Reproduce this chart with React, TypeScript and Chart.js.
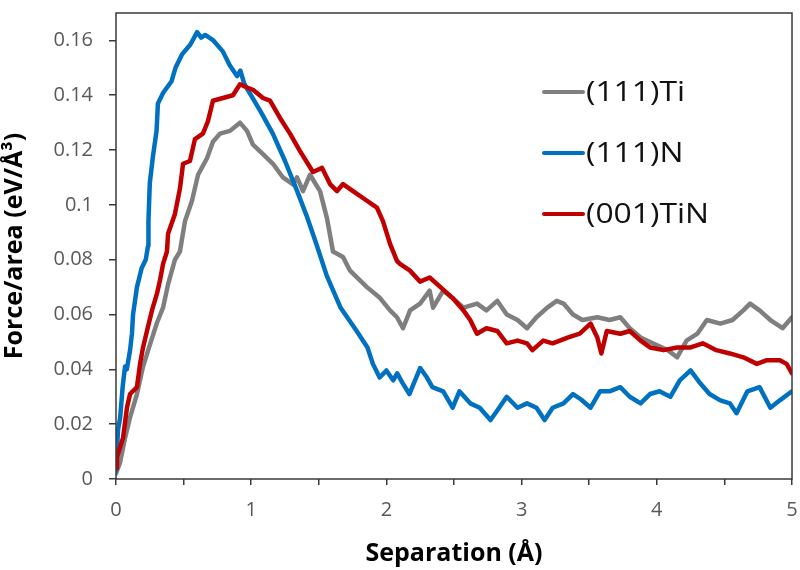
import React, { useEffect, useRef } from "react";
import { Chart, registerables } from "chart.js";

Chart.register(...registerables);

const seriesNames = ["(111)Ti", "(111)N", "(001)TiN"];
const seriesColors = ["#7f7f7f", "#0070c0", "#c00000"];

const xTitle = "Separation (Å)";
const yTitle = "Force/area (eV/Å³)";

const yTickMax = 0.16;
const yAxisMax = 0.17;
const xAxisMax = 5;

// [separation, force/area]
const ti111: [number, number][] = [
  [0, 0.002], [0.03, 0.006], [0.067, 0.015], [0.104, 0.0225], [0.155, 0.031], [0.2, 0.041],
  [0.251, 0.049], [0.303, 0.057], [0.348, 0.0625], [0.385, 0.071], [0.436, 0.08], [0.473, 0.083],
  [0.51, 0.094], [0.562, 0.1015], [0.607, 0.111], [0.673, 0.117], [0.717, 0.123], [0.769, 0.126],
  [0.843, 0.127], [0.917, 0.13], [0.969, 0.127], [1.013, 0.122], [1.087, 0.1185], [1.161, 0.115],
  [1.235, 0.11], [1.309, 0.1075], [1.339, 0.11], [1.383, 0.105], [1.435, 0.111], [1.509, 0.105],
  [1.561, 0.095], [1.605, 0.083], [1.679, 0.081], [1.731, 0.076], [1.856, 0.07], [1.953, 0.066],
  [2.027, 0.0615], [2.078, 0.059], [2.123, 0.055], [2.175, 0.0615], [2.249, 0.064], [2.32, 0.0687],
  [2.345, 0.0625], [2.42, 0.0687], [2.49, 0.066], [2.57, 0.0625], [2.67, 0.064], [2.74, 0.0615],
  [2.82, 0.065], [2.89, 0.06], [2.97, 0.058], [3.04, 0.055], [3.11, 0.059], [3.19, 0.0625],
  [3.26, 0.065], [3.31, 0.064], [3.38, 0.06], [3.45, 0.058], [3.56, 0.059], [3.65, 0.058],
  [3.73, 0.059], [3.8, 0.055], [3.88, 0.0516], [3.97, 0.0495], [4.08, 0.047], [4.15, 0.0444],
  [4.22, 0.0505], [4.3, 0.053], [4.37, 0.058], [4.47, 0.0567], [4.56, 0.058], [4.64, 0.0615],
  [4.69, 0.064], [4.76, 0.0615], [4.84, 0.058], [4.93, 0.055], [5.0, 0.059],
];

const n111: [number, number][] = [
  [0, 0.003], [0.015, 0.018], [0.03, 0.022], [0.05, 0.034], [0.067, 0.041], [0.08, 0.04],
  [0.104, 0.047], [0.118, 0.053], [0.126, 0.06], [0.155, 0.07], [0.19, 0.077], [0.22, 0.08],
  [0.237, 0.085], [0.24, 0.094], [0.25, 0.108], [0.274, 0.118], [0.3, 0.127], [0.31, 0.137],
  [0.35, 0.141], [0.41, 0.145], [0.44, 0.15], [0.49, 0.155], [0.55, 0.1585], [0.6, 0.163],
  [0.63, 0.161], [0.66, 0.162], [0.72, 0.16], [0.79, 0.156], [0.84, 0.151], [0.895, 0.147],
  [0.92, 0.149], [0.95, 0.144], [1.01, 0.139], [1.07, 0.134], [1.16, 0.126], [1.25, 0.116],
  [1.34, 0.105], [1.41, 0.096], [1.48, 0.086], [1.56, 0.074], [1.66, 0.0626], [1.78, 0.054],
  [1.86, 0.048], [1.9, 0.042], [1.95, 0.037], [2.0, 0.0396], [2.05, 0.036], [2.08, 0.0385],
  [2.12, 0.035], [2.17, 0.031], [2.25, 0.0405], [2.3, 0.037], [2.34, 0.0335], [2.42, 0.032],
  [2.49, 0.026], [2.54, 0.032], [2.62, 0.0276], [2.69, 0.026], [2.77, 0.0215], [2.82, 0.025],
  [2.89, 0.03], [2.97, 0.026], [3.04, 0.0276], [3.11, 0.026], [3.17, 0.0215], [3.23, 0.026],
  [3.31, 0.0276], [3.38, 0.031], [3.44, 0.029], [3.51, 0.026], [3.58, 0.032], [3.65, 0.032],
  [3.73, 0.0335], [3.8, 0.03], [3.88, 0.0276], [3.95, 0.031], [4.02, 0.032], [4.1, 0.03],
  [4.17, 0.036], [4.25, 0.0396], [4.32, 0.035], [4.39, 0.031], [4.47, 0.0287], [4.54, 0.0276],
  [4.59, 0.024], [4.67, 0.032], [4.76, 0.0335], [4.84, 0.026], [4.91, 0.0287], [5.0, 0.032],
];

const tin001: [number, number][] = [
  [0, 0.004], [0.007, 0.008], [0.03, 0.0116], [0.052, 0.015], [0.081, 0.026], [0.104, 0.031],
  [0.155, 0.0335], [0.178, 0.042], [0.2, 0.048], [0.229, 0.054], [0.266, 0.0615], [0.303, 0.0676],
  [0.325, 0.0724], [0.348, 0.0785], [0.377, 0.083], [0.385, 0.0895], [0.436, 0.0967], [0.473, 0.106],
  [0.496, 0.115], [0.547, 0.116], [0.584, 0.124], [0.643, 0.126], [0.68, 0.1305], [0.717, 0.138],
  [0.791, 0.139], [0.865, 0.14], [0.917, 0.144], [0.96, 0.143], [1.013, 0.142], [1.087, 0.139],
  [1.139, 0.138], [1.213, 0.1317], [1.287, 0.126], [1.361, 0.1196], [1.457, 0.112], [1.524, 0.1135],
  [1.583, 0.1076], [1.635, 0.105], [1.679, 0.1076], [1.753, 0.105], [1.856, 0.1015], [1.9, 0.1],
  [1.93, 0.099], [1.975, 0.094], [2.027, 0.0858], [2.078, 0.0796], [2.1, 0.0785], [2.175, 0.076],
  [2.249, 0.072], [2.32, 0.0735], [2.4, 0.07], [2.49, 0.066], [2.57, 0.0615], [2.62, 0.058],
  [2.67, 0.053], [2.74, 0.055], [2.82, 0.054], [2.89, 0.0495], [2.97, 0.0505], [3.04, 0.0495],
  [3.08, 0.047], [3.16, 0.0505], [3.23, 0.0495], [3.34, 0.0516], [3.43, 0.053], [3.51, 0.0567],
  [3.56, 0.0516], [3.59, 0.0458], [3.63, 0.054], [3.73, 0.053], [3.8, 0.054], [3.88, 0.0505],
  [3.95, 0.048], [4.05, 0.047], [4.15, 0.048], [4.25, 0.048], [4.34, 0.0495], [4.44, 0.047],
  [4.54, 0.0458], [4.64, 0.0444], [4.74, 0.042], [4.81, 0.0433], [4.91, 0.0433], [4.96, 0.042],
  [5.0, 0.0385],
];

const seriesData = [ti111, n111, tin001];

const framePlugin = {
  id: "frameAndLegend",
  afterDatasetsDraw(chart: any) {
    const { ctx, chartArea } = chart;
    const { left, top, right, bottom } = chartArea;
    ctx.save();
    ctx.strokeStyle = "#3a3a3a";
    ctx.lineWidth = 1.5;
    ctx.strokeRect(left, top, right - left, bottom - top);
    ctx.restore();
  },
  afterDraw(chart: any) {
    const { ctx, chartArea } = chart;
    const { left, top } = chartArea;
    ctx.save();
    seriesNames.forEach((name, i) => {
      const y = top + 79 + i * 61;
      const x0 = left + 428;
      ctx.strokeStyle = seriesColors[i];
      ctx.lineWidth = 4;
      ctx.lineCap = "round";
      ctx.beginPath();
      ctx.moveTo(x0, y);
      ctx.lineTo(x0 + 39, y);
      ctx.stroke();
      ctx.save();
      ctx.translate(x0 + 42, y);
      ctx.scale(1.18, 1);
      ctx.fillStyle = "#111111";
      ctx.font = "27px 'Open Sans'";
      ctx.textBaseline = "middle";
      ctx.textAlign = "left";
      ctx.fillText(name, 0, 1);
      ctx.restore();
    });
    ctx.restore();
  },
};

export default function App() {
  const canvasRef = useRef<HTMLCanvasElement | null>(null);

  useEffect(() => {
    const canvas = canvasRef.current;
    if (!canvas) return;
    const chart = new Chart(canvas, {
      type: "line",
      data: {
        datasets: seriesData.map((pts, i) => ({
          label: seriesNames[i],
          data: pts.map(([x, y]) => ({ x, y })),
          borderColor: seriesColors[i],
          backgroundColor: seriesColors[i],
          borderWidth: 4.5,
          pointRadius: 0,
          tension: 0,
          fill: false,
          borderJoinStyle: "round" as const,
          borderCapStyle: "round" as const,
          order: 2 - i,
        })),
      },
      options: {
        animation: false,
        responsive: false,
        maintainAspectRatio: false,
        layout: { padding: { left: 0, top: 13, right: 8, bottom: 0 } },
        plugins: {
          legend: { display: false },
          tooltip: { enabled: false },
        },
        scales: {
          x: {
            type: "linear",
            min: 0,
            max: xAxisMax,
            border: { display: false },
            grid: {
              drawOnChartArea: false,
              drawTicks: true,
              tickLength: 6,
              color: "#3a3a3a",
              lineWidth: 1.5,
            },
            ticks: {
              stepSize: 0.5,
              color: "#595959",
              font: { family: "'Open Sans'", size: 20 },
              padding: 13,
              maxRotation: 0,
              autoSkip: false,
              callback: (v: any) => (Number.isInteger(Number(v)) ? String(v) : ""),
            },
            title: {
              display: true,
              text: xTitle,
              color: "#000000",
              font: { family: "'Open Sans'", size: 25, weight: "bold" },
              padding: { top: 0, bottom: 1 },
            },
            afterFit: (scale: any) => {
              scale.height = 91;
              scale.paddingLeft = 0;
              scale.paddingRight = 0;
            },
          },
          y: {
            type: "linear",
            min: 0,
            max: yAxisMax,
            border: { display: false },
            grid: {
              drawOnChartArea: false,
              drawTicks: true,
              tickLength: 7,
              color: "#3a3a3a",
              lineWidth: 1.5,
            },
            afterBuildTicks: (axis: any) => {
              axis.ticks = axis.ticks.filter((t: any) => t.value <= yTickMax + 1e-9);
            },
            ticks: {
              stepSize: 0.02,
              color: "#595959",
              font: { family: "'Open Sans'", size: 20 },
              padding: 16,
              callback: (v: any) => String(Number(Number(v).toFixed(2))),
            },
            title: {
              display: true,
              text: yTitle,
              color: "#000000",
              font: { family: "'Open Sans'", size: 25, weight: "bold" },
              padding: { top: 0, bottom: 0 },
            },
            afterFit: (scale: any) => {
              scale.width = 116;
              scale.paddingTop = 0;
              scale.paddingBottom = 0;
            },
          },
        },
      },
      plugins: [framePlugin],
    });
    return () => chart.destroy();
  }, []);

  return (
    <div style={{ position: "fixed", left: 0, top: 0, width: 800, height: 570, background: "#ffffff" }}>
      <canvas ref={canvasRef} width={800} height={570} style={{ width: 800, height: 570, display: "block" }} />
    </div>
  );
}
